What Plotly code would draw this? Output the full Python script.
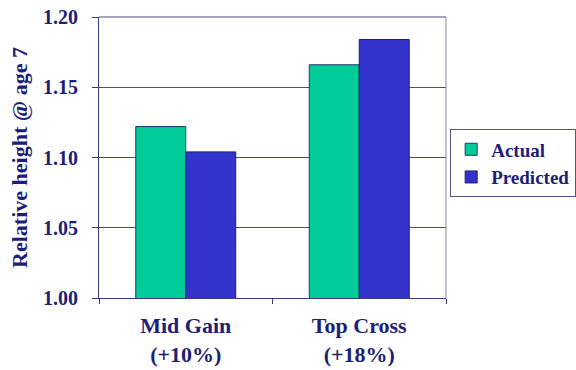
import plotly.graph_objects as go

categories = ["Mid Gain<br>(+10%)", "Top Cross<br>(+18%)"]
actual = [1.122, 1.166]
predicted = [1.104, 1.184]
y_ticks = [1.00, 1.05, 1.10, 1.15, 1.20]

navy = "#1E1E78"
font_family = "Liberation Serif, Times New Roman, serif"

fig = go.Figure()
fig.add_trace(go.Bar(name="Actual", x=categories, y=actual,
                     marker=dict(color="#00CC99", line=dict(color="#1E3A6E", width=1))))
fig.add_trace(go.Bar(name="Predicted", x=categories, y=predicted,
                     marker=dict(color="#3333CC", line=dict(color="#1E1E6E", width=1))))

fig.update_layout(
    width=576, height=370,
    margin=dict(l=99, r=130, t=17, b=72, autoexpand=False),
    paper_bgcolor="white", plot_bgcolor="white",
    barmode="group", bargap=0.424, bargroupgap=0,
    font=dict(family=font_family, color=navy, size=20, weight="bold"),
    showlegend=True,
    legend=dict(x=1.012, y=0.60, xanchor="left", yanchor="top",
                bordercolor="#55558A", borderwidth=1, bgcolor="white",
                font=dict(size=19, family=font_family, color=navy, weight="bold"),
                tracegroupgap=0, itemwidth=30),
    xaxis=dict(showline=True, linecolor="#3A3A80", linewidth=1, automargin=False,
               ticks="outside", tickson="boundaries", ticklen=5, tickcolor="#3A3A80",
               ticklabelstandoff=8,
               tickfont=dict(size=22, family=font_family, color=navy, weight="bold")),
    yaxis=dict(range=[1.0, 1.2], tickvals=y_ticks, tickformat=".2f", automargin=False,
               showline=True, linecolor="#3A3A80", linewidth=1,
               ticks="outside", ticklen=6, tickcolor="#3A3A80",
               showgrid=True, gridcolor="#4A4A85", gridwidth=1,
               zeroline=False, ticklabelstandoff=10,
               tickfont=dict(size=20, family=font_family, color=navy, weight="bold"),
               title=dict(text="Relative height @ age 7", standoff=9,
                          font=dict(size=22, family=font_family, color=navy, weight="bold"))),
)
# plot-area frame: top edge (1.20 gridline) and lighter right edge
fig.add_shape(type="line", xref="paper", yref="paper", x0=0, x1=1, y0=1, y1=1,
              line=dict(color="#4A4A85", width=1))
fig.add_shape(type="line", xref="paper", yref="paper", x0=1, x1=1, y0=0, y1=1,
              line=dict(color="#8A8AA8", width=1))

fig.write_html("out.html", config={"displayModeBar": False},
               post_script="document.body.style.margin='0';document.body.style.overflow='hidden';")
